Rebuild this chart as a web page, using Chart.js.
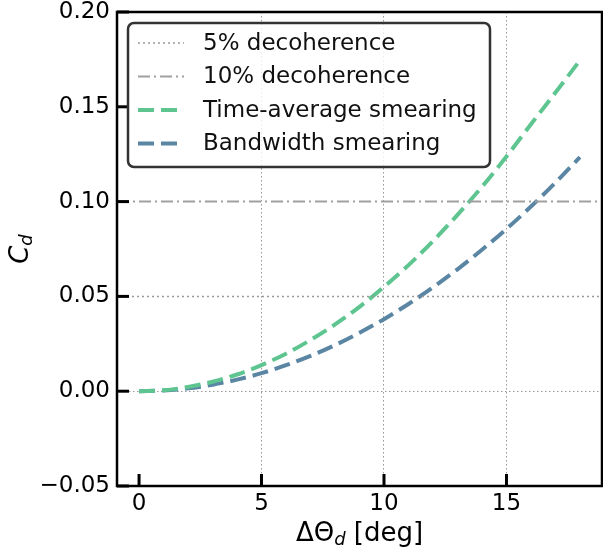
<!DOCTYPE html>
<html>
<head>
<meta charset="utf-8">
<script src="https://cdn.jsdelivr.net/npm/chart.js@4.4.1/dist/chart.umd.min.js"></script>
<style>
  html, body { margin: 0; padding: 0; background: #fff; }
  canvas { display: block; }
</style>
</head>
<body>
<canvas id="smearing" width="603" height="548"></canvas>
<script>
// data
const angles = [0, 1, 2, 3, 4, 5, 6, 7, 8, 9, 10, 11, 12, 13, 14, 15, 16, 17, 18];
const timeAverage = [0, 0.0005, 0.0022, 0.005, 0.0088, 0.0138, 0.0198, 0.027, 0.0352, 0.0445, 0.055, 0.0665, 0.0792, 0.093, 0.1078, 0.1238, 0.1408, 0.1575, 0.1745];
const bandwidth = [0, 0.0004, 0.0015, 0.0034, 0.0061, 0.0095, 0.0137, 0.0186, 0.0243, 0.0308, 0.038, 0.046, 0.0548, 0.0643, 0.0746, 0.0856, 0.0974, 0.11, 0.1235];
const xTicks = [0, 5, 10, 15];
const yTicks = [-0.05, 0, 0.05, 0.10, 0.15, 0.20];
const xLimits = [-0.9, 18.9];
const yLimits = [-0.05, 0.2];
const decoherence5 = 0.05;
const decoherence10 = 0.10;

const FONT = '"DejaVu Sans", sans-serif';

(function(){
  const ctx = document.getElementById('smearing');

  const pts = (ys) => angles.map((x, i) => ({ x: x, y: ys[i] }));
  const hline = (y) => xLimits.map(x => ({ x: x, y: y }));

  // inward ticks, frame, axis titles with subscripts, legend box
  const framePlugin = {
    id: 'frame',
    afterDatasetsDraw(chart) {
      const c = chart.ctx, a = chart.chartArea;
      const sx = chart.scales.x, sy = chart.scales.y;
      c.save();
      c.strokeStyle = '#000';
      c.lineWidth = 3;
      c.setLineDash([]);
      xTicks.forEach(v => {
        const px = sx.getPixelForValue(v);
        c.beginPath(); c.moveTo(px, a.bottom); c.lineTo(px, a.bottom - 12); c.stroke();
      });
      yTicks.forEach(v => {
        const py = sy.getPixelForValue(v);
        c.beginPath(); c.moveTo(a.left, py); c.lineTo(a.left + 12, py); c.stroke();
      });
      c.lineWidth = 2.5;
      c.strokeRect(a.left, a.top, a.right - a.left, a.bottom - a.top);

      // x title
      c.fillStyle = '#000';
      c.textBaseline = 'alphabetic';
      const main = 'ΔΘ', rest = ' [deg]';
      c.font = 'italic 18px ' + FONT;
      const wSub = c.measureText('d').width;
      c.font = '26px ' + FONT;
      const wMain = c.measureText(main).width, wRest = c.measureText(rest).width;
      const x0 = (a.left + a.right) / 2 - (wMain + wSub + wRest) / 2;
      const base = 541;
      c.fillText(main, x0, base);
      c.font = 'italic 18px ' + FONT;
      c.fillText('d', x0 + wMain, base + 4);
      c.font = '26px ' + FONT;
      c.fillText(rest, x0 + wMain + wSub, base);

      // y title
      c.save();
      c.translate(28, (a.top + a.bottom) / 2);
      c.rotate(-Math.PI / 2);
      c.font = 'italic 26px ' + FONT;
      const wC = c.measureText('C').width;
      c.font = 'italic 18px ' + FONT;
      const wd = c.measureText('d').width;
      const y0 = -(wC + wd) / 2;
      c.font = 'italic 26px ' + FONT;
      c.fillText('C', y0, 0);
      c.font = 'italic 18px ' + FONT;
      c.fillText('d', y0 + wC, 4);
      c.restore();

      // legend box
      const lx = 128, ly = 23, lw = 362, lh = 144;
      c.beginPath();
      c.roundRect(lx, ly, lw, lh, 6);
      c.fillStyle = 'rgba(255,255,255,0.8)';
      c.fill();
      c.lineWidth = 2.5;
      c.strokeStyle = '#333';
      c.stroke();
      c.font = '23px ' + FONT;
      c.textBaseline = 'middle';
      chart.data.datasets.forEach((ds, i) => {
        const yy = 43 + i * 33.5;
        c.beginPath();
        c.strokeStyle = ds.borderColor;
        c.lineWidth = ds.borderWidth;
        c.setLineDash(ds.borderDash || []);
        c.moveTo(138, yy); c.lineTo(184, yy);
        c.stroke();
        c.setLineDash([]);
        c.fillStyle = '#111';
        c.fillText(ds.label, 203, yy + 1);
      });
      c.restore();
    }
  };

  new Chart(ctx, {
    type: 'line',
    data: {
      datasets: [{
        label: '5% decoherence',
        data: hline(decoherence5),
        borderColor: '#999999',
        borderWidth: 1.5,
        borderDash: [2, 3],
        pointRadius: 0
      }, {
        label: '10% decoherence',
        data: hline(decoherence10),
        borderColor: '#a0a0a0',
        borderWidth: 2,
        borderDash: [12, 4, 2, 4],
        pointRadius: 0
      }, {
        label: 'Time-average smearing',
        data: pts(timeAverage),
        borderColor: '#5ec591',
        borderWidth: 4,
        borderDash: [16, 7],
        pointRadius: 0,
        cubicInterpolationMode: 'monotone'
      }, {
        label: 'Bandwidth smearing',
        data: pts(bandwidth),
        borderColor: '#5a86a4',
        borderWidth: 4,
        borderDash: [16, 7],
        pointRadius: 0,
        cubicInterpolationMode: 'monotone'
      }]
    },
    options: {
      responsive: false,
      animation: false,
      layout: {
        padding: { top: 12, right: 1, left: 0, bottom: 0 }
      },
      scales: {
        x: {
          type: 'linear',
          min: xLimits[0],
          max: xLimits[1],
          afterBuildTicks: (s) => { s.ticks = xTicks.map(v => ({ value: v })); },
          afterFit: (s) => { s.height = 62; s.paddingLeft = 0; s.paddingRight = 0; },
          border: { display: false, dash: [1.5, 2.5] },
          grid: {
            drawTicks: false,
            color: (c) => (c.tick && c.tick.value > 0) ? '#999999' : 'rgba(0,0,0,0)',
            lineWidth: 1
          },
          ticks: {
            padding: 4,
            color: '#000',
            font: { family: FONT, size: 23 },
            maxRotation: 0
          }
        },
        y: {
          min: yLimits[0],
          max: yLimits[1],
          afterBuildTicks: (s) => { s.ticks = yTicks.map(v => ({ value: v })); },
          afterFit: (s) => { s.width = 117; s.paddingTop = 0; s.paddingBottom = 0; },
          border: { display: false, dash: [1.5, 2.5] },
          grid: {
            drawTicks: false,
            color: (c) => (c.tick && Math.abs(c.tick.value) < 1e-9) ? '#999999' : 'rgba(0,0,0,0)',
            lineWidth: 1
          },
          ticks: {
            padding: 7,
            color: '#000',
            font: { family: FONT, size: 23 },
            callback: (v) => v.toFixed(2).replace('-', '\u2212')
          }
        }
      },
      plugins: {
        legend: { display: false },
        tooltip: { enabled: false }
      }
    },
    plugins: [framePlugin]
  });
})();
</script>
</body>
</html>
